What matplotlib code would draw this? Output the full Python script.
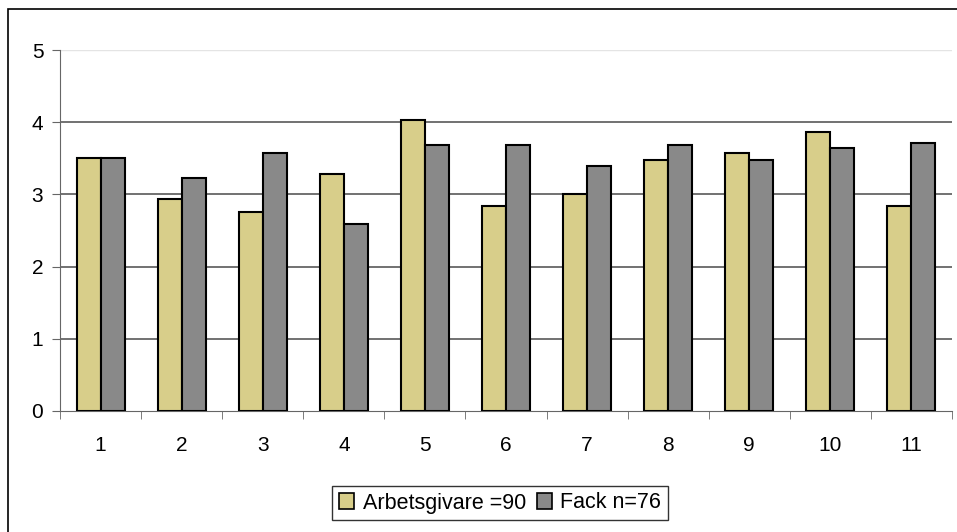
import matplotlib
matplotlib.use("Agg")
import matplotlib.pyplot as plt
from matplotlib.patches import Rectangle
import numpy as np

plt.rcParams['font.family'] = ['Liberation Sans', 'DejaVu Sans']

categories = ["1", "2", "3", "4", "5", "6", "7", "8", "9", "10", "11"]
arbetsgivare = [3.50, 2.93, 2.76, 3.28, 4.03, 2.84, 3.00, 3.48, 3.57, 3.87, 2.84]
fack = [3.50, 3.23, 3.57, 2.59, 3.68, 3.68, 3.40, 3.68, 3.48, 3.64, 3.71]
series_labels = ["Arbetsgivare =90", "Fack n=76"]
yticks = [0, 1, 2, 3, 4, 5]

W, H = 957, 532
fig = plt.figure(figsize=(W / 100, H / 100), dpi=100)

# outer chart frame
fig.patches.append(Rectangle((8 / W, -0.2), 1.2, 1.2 - 9 / H,
                             transform=fig.transFigure, fill=False,
                             edgecolor='black', linewidth=1.2, zorder=0))

ax = fig.add_axes([60 / W, 1 - 411 / H, (952 - 60) / W, (411 - 50) / H])
x = np.arange(len(categories))
bw = 24 / 81.1
ax.bar(x - bw / 2, arbetsgivare, width=bw, color='#D8CE8A', edgecolor='black',
       linewidth=1.5, label=series_labels[0], zorder=3)
ax.bar(x + bw / 2, fack, width=bw, color='#898989', edgecolor='black',
       linewidth=1.5, label=series_labels[1], zorder=3)

ax.set_xlim(-0.5, len(categories) - 0.5)
ax.set_ylim(0, 5)
ax.set_yticks(yticks)
ax.set_yticklabels([str(t) for t in yticks], fontsize=15)
for t in yticks[1:-1]:
    ax.axhline(t, color='#4a4a4a', linewidth=1.1, zorder=1)
ax.axhline(5, color='#e4e4e4', linewidth=1.0, zorder=1)

ax.set_xticks(x)
ax.set_xticklabels(categories, fontsize=15)
ax.tick_params(axis='x', which='major', length=0, pad=18)
ax.set_xticks(np.arange(-0.5, len(categories)), minor=True)
ax.tick_params(axis='x', which='minor', length=6, color='#666666', direction='out')
ax.tick_params(axis='y', length=6, color='#666666', direction='out', pad=6)

for s in ['top', 'right']:
    ax.spines[s].set_visible(False)
ax.spines['left'].set_color('#666666')
ax.spines['bottom'].set_color('#666666')

leg = fig.legend(loc='center', bbox_to_anchor=(500 / W, 1 - 503 / H),
                 ncol=2, fontsize=15.5, frameon=True, fancybox=False,
                 handlelength=0.7, handleheight=0.7, handletextpad=0.4,
                 columnspacing=0.5, borderpad=0.3)
leg.get_frame().set_edgecolor('black')
leg.get_frame().set_linewidth(1.0)
for h in leg.legend_handles:
    h.set_linewidth(1.2)

fig.savefig("out.png", dpi=100)
